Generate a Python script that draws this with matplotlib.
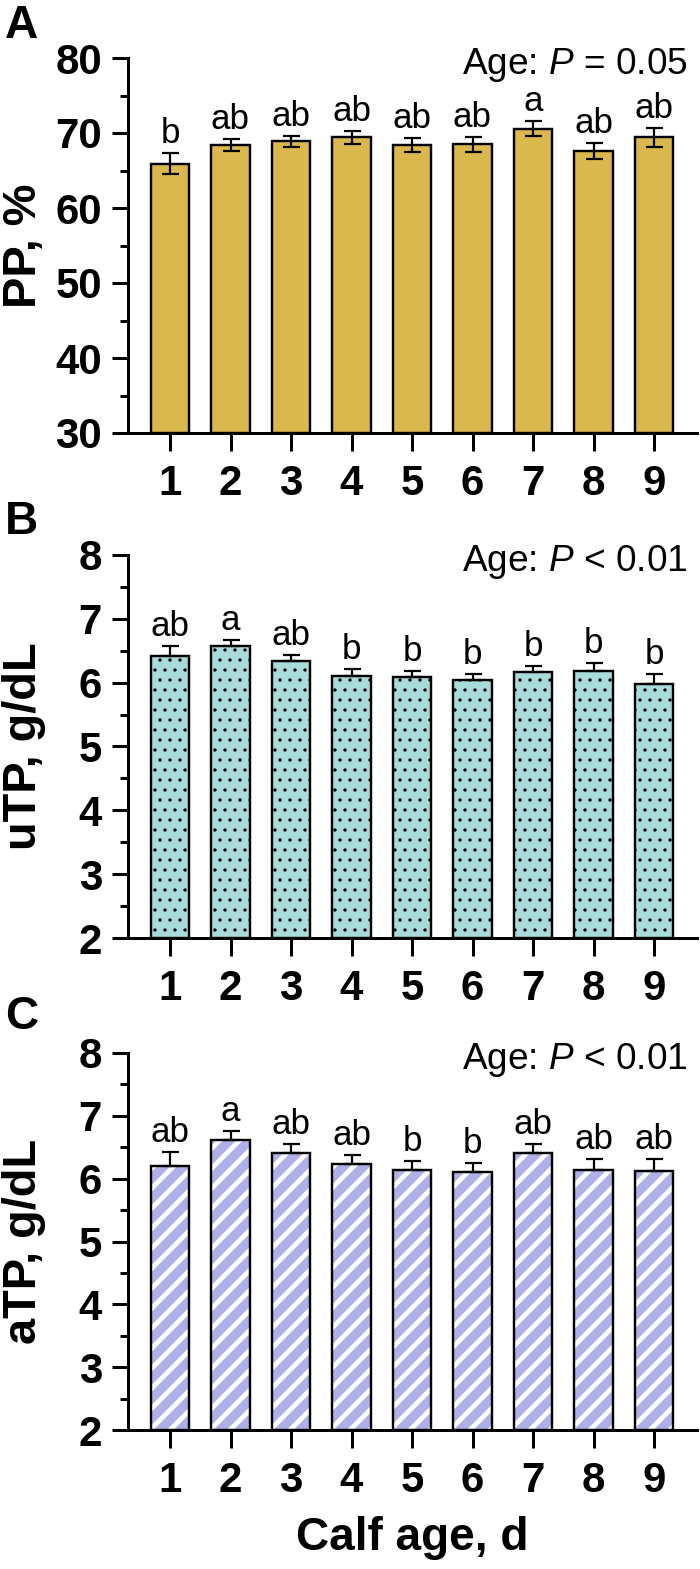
import numpy as np
import matplotlib
matplotlib.use("Agg")
import matplotlib.pyplot as plt
from matplotlib.ticker import MultipleLocator

# ---------------- data ----------------
days = [1, 2, 3, 4, 5, 6, 7, 8, 9]
day_labels = ["1", "2", "3", "4", "5", "6", "7", "8", "9"]

pp_mean = [65.9, 68.4, 68.9, 69.4, 68.4, 68.5, 70.6, 67.6, 69.4]
pp_se = [1.4, 0.8, 0.7, 0.9, 0.9, 1.0, 1.0, 1.1, 1.2]
pp_letters = ["b", "ab", "ab", "ab", "ab", "ab", "a", "ab", "ab"]

utp_mean = [6.42, 6.57, 6.34, 6.11, 6.09, 6.04, 6.16, 6.19, 5.98]
utp_se = [0.16, 0.10, 0.09, 0.10, 0.10, 0.10, 0.10, 0.12, 0.15]
utp_letters = ["ab", "a", "ab", "b", "b", "b", "b", "b", "b"]

atp_mean = [6.20, 6.62, 6.41, 6.23, 6.13, 6.10, 6.41, 6.14, 6.12]
atp_se = [0.22, 0.14, 0.14, 0.14, 0.15, 0.15, 0.14, 0.18, 0.20]
atp_letters = ["ab", "a", "ab", "ab", "b", "b", "ab", "ab", "ab"]

p_texts = ["Age: $P$ = 0.05", "Age: $P$ < 0.01", "Age: $P$ < 0.01"]
ylabels = ["PP, %", "uTP, g/dL", "aTP, g/dL"]
panel_letters = ["A", "B", "C"]
xlabel = "Calf age, d"

# ---------------- style ----------------
W, H, DPI = 700, 1569, 120
PT = 72.0 / DPI  # points per pixel
plt.rcParams["font.family"] = ["Liberation Sans", "DejaVu Sans"]
plt.rcParams["mathtext.fontset"] = "custom"
plt.rcParams["mathtext.rm"] = "Liberation Sans"
plt.rcParams["mathtext.it"] = "Liberation Sans:italic"

GOLD = "#DAB84E"
TEAL = "#A8DCDB"
LAV = "#B0B0E8"


def hatch_lw_hook(patch, lw):
    if hasattr(patch, "set_hatch_linewidth"):
        patch.set_hatch_linewidth(lw)
    orig = patch.draw

    def draw(renderer):
        with plt.rc_context({"hatch.linewidth": lw}):
            orig(renderer)
    patch.draw = draw


fig = plt.figure(figsize=(W / DPI, H / DPI), dpi=DPI)

LEFT, RIGHT = 128, 697
panels = [
    dict(top=58, bottom=433, ylim=(30, 80), major=10, minor=5,
         mean=pp_mean, se=pp_se, letters=pp_letters, two_sided=True),
    dict(top=555, bottom=938, ylim=(2, 8), major=1, minor=0.5,
         mean=utp_mean, se=utp_se, letters=utp_letters, two_sided=False),
    dict(top=1053, bottom=1430, ylim=(2, 8), major=1, minor=0.5,
         mean=atp_mean, se=atp_se, letters=atp_letters, two_sided=False),
]
letter_tops = [4, 500, 995]

x = np.array(days, dtype=float)
BAR_W = 0.63

for i, p in enumerate(panels):
    ax = fig.add_axes([LEFT / W, 1 - p["bottom"] / H,
                       (RIGHT - LEFT) / W, (p["bottom"] - p["top"]) / H])
    mean = np.array(p["mean"])
    se = np.array(p["se"])
    base = p["ylim"][0]

    if i == 0:
        ax.bar(x, mean - base, bottom=base, width=BAR_W,
               color=GOLD, edgecolor="black", linewidth=2.4 * PT, zorder=2)
    elif i == 1:
        bars = ax.bar(x, mean - base, bottom=base, width=BAR_W,
                      color=TEAL, edgecolor="black", linewidth=2.4 * PT,
                      hatch="..", zorder=2)
        for b in bars:
            hatch_lw_hook(b, 1.3 * PT)
    else:
        bars = ax.bar(x, mean - base, bottom=base, width=BAR_W,
                      color=LAV, edgecolor="white", linewidth=0,
                      hatch="//", zorder=2)
        for b in bars:
            hatch_lw_hook(b, 4.8 * PT)
        ax.bar(x, mean - base, bottom=base, width=BAR_W,
               fill=False, edgecolor="black", linewidth=2.4 * PT, zorder=3)

    if p["two_sided"]:
        yerr = se
    else:
        yerr = [np.zeros_like(se), se]
    tops = mean + se
    ax.errorbar(x, mean, yerr=yerr, fmt="none", ecolor="black",
                elinewidth=2.2 * PT, capsize=8.5 * PT, capthick=2.2 * PT, zorder=4)

    for xi, t, lab in zip(x, tops, p["letters"]):
        ax.annotate(lab, xy=(xi, t), xytext=(0, 3 * PT), textcoords="offset points",
                    ha="center", va="bottom", fontsize=35 * PT, zorder=5)

    ax.annotate(p_texts[i], xy=(1, 1), xycoords="axes fraction",
                xytext=(-9 * PT, -16 * PT), textcoords="offset points",
                ha="right", va="baseline", fontsize=37 * PT)

    ax.set_xlim(1 - 42 / 60.5, 1 + (RIGHT - 170) / 60.5)
    ax.set_ylim(*p["ylim"])
    ax.yaxis.set_major_locator(MultipleLocator(p["major"]))
    ax.yaxis.set_minor_locator(MultipleLocator(p["minor"]))
    ax.set_xticks(x)
    ax.set_xticklabels(day_labels)
    for s in ["top", "right"]:
        ax.spines[s].set_visible(False)
    for s in ["left", "bottom"]:
        ax.spines[s].set_linewidth(3 * PT)
    ax.tick_params(axis="y", which="major", length=16 * PT, width=3 * PT,
                   labelsize=42 * PT, pad=10 * PT)
    ax.tick_params(axis="y", which="minor", length=8 * PT, width=3 * PT)
    ax.tick_params(axis="x", which="major", length=18 * PT, width=3 * PT,
                   labelsize=42 * PT, pad=13 * PT)
    for lab in ax.get_yticklabels() + ax.get_xticklabels():
        lab.set_fontweight("bold")
    ax.patch.set_alpha(0)

    yc = 1 - (p["top"] + p["bottom"]) / 2 / H
    fig.text(24 / W, yc, ylabels[i], rotation=90, ha="center", va="center",
             fontsize=47 * PT, fontweight="bold")
    fig.text(5 / W, 1 - letter_tops[i] / H, panel_letters[i], ha="left", va="top",
             fontsize=46 * PT, fontweight="bold")

fig.text((LEFT + RIGHT) / 2 / W, 1 - 1538 / H, xlabel, ha="center", va="center",
         fontsize=46 * PT, fontweight="bold")

fig.savefig("out.png", dpi=DPI)
